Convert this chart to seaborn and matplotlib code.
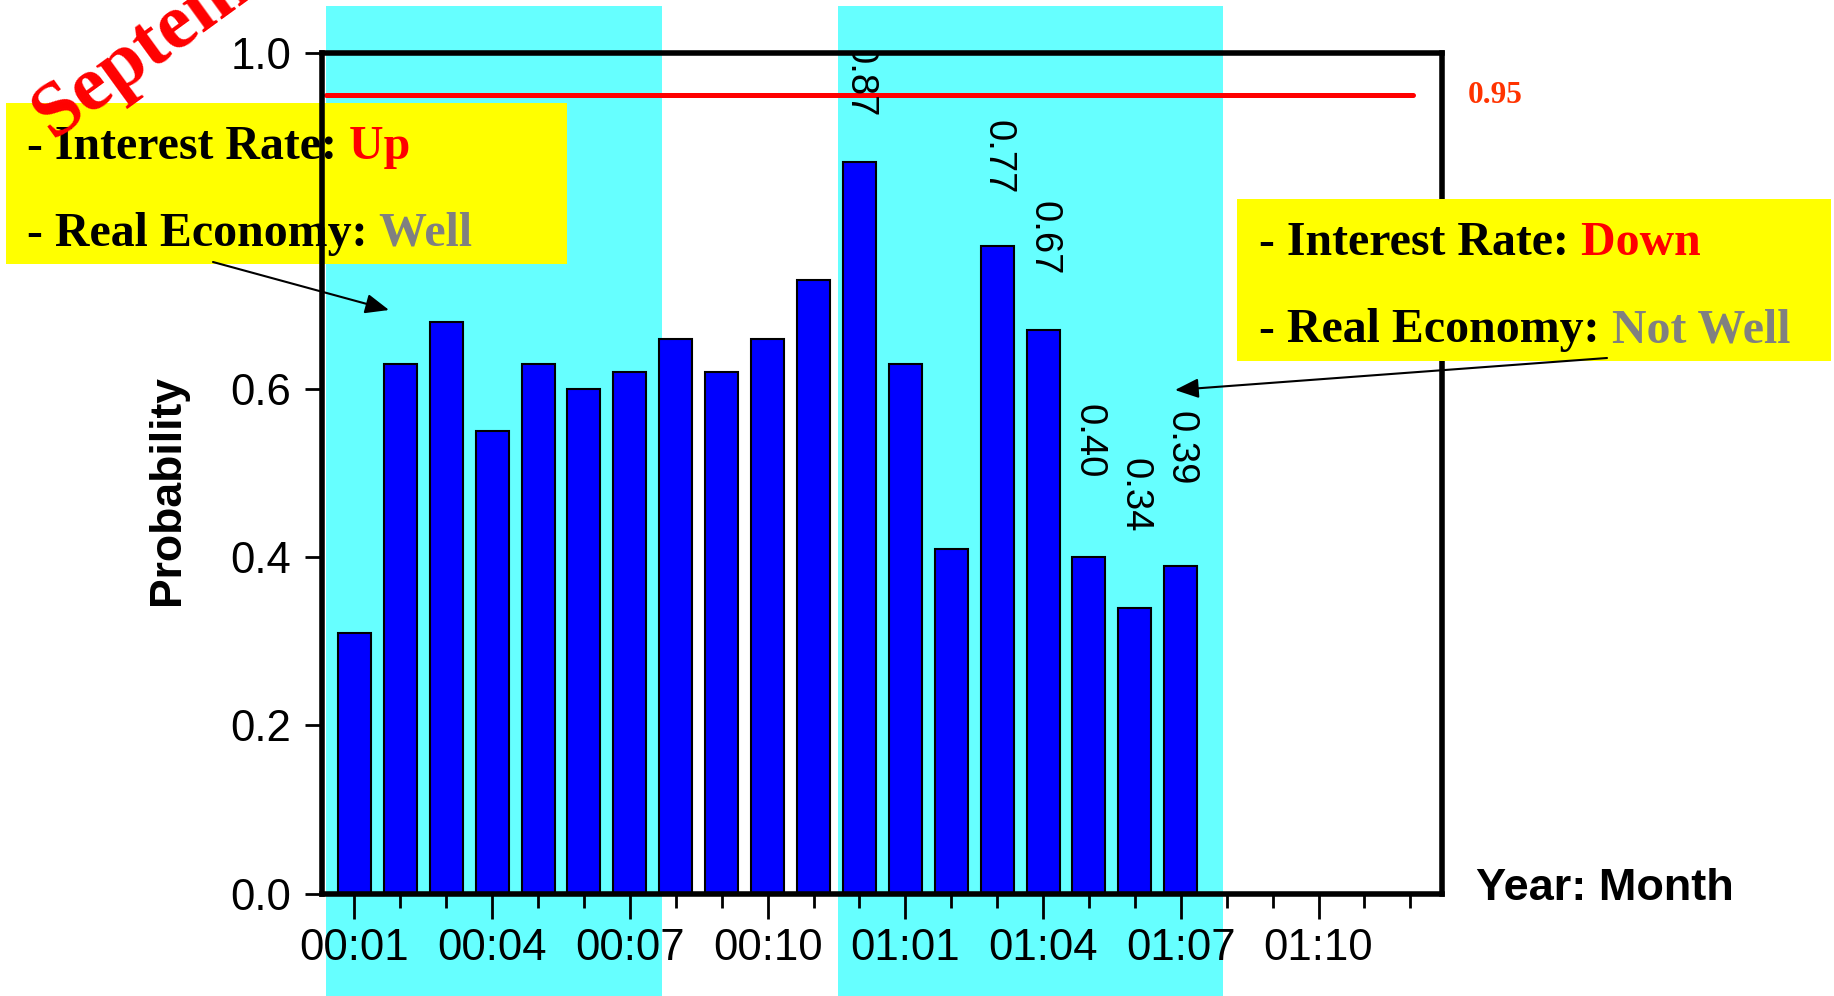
import matplotlib
matplotlib.use("Agg")
import matplotlib.pyplot as plt
from matplotlib.patches import Rectangle
import seaborn as sns
import pandas as pd

# ---- data -------------------------------------------------------------
months = ["00:01", "00:02", "00:03", "00:04", "00:05", "00:06",
          "00:07", "00:08", "00:09", "00:10", "00:11", "00:12",
          "01:01", "01:02", "01:03", "01:04", "01:05", "01:06",
          "01:07", "01:08", "01:09", "01:10", "01:11", "01:12"]
probabilities = [0.31, 0.63, 0.68, 0.55, 0.63, 0.60, 0.62, 0.66, 0.62,
                 0.66, 0.73, 0.87, 0.63, 0.41, 0.77, 0.67, 0.40, 0.34, 0.39]
labelled_months = ["00:12", "01:03", "01:04", "01:05", "01:06", "01:07"]
label_gaps = [0.053, 0.062, 0.066, 0.094, 0.089, 0.096]
threshold = 0.95
yticks = [0.0, 0.2, 0.4, 0.6, 0.8, 1.0]
major_months = ["00:01", "00:04", "00:07", "00:10", "01:01", "01:04", "01:07", "01:10"]
shaded_periods = [(-0.62, 6.70), (10.53, 18.92)]

# ---- style ------------------------------------------------------------
sns.set_style("white")
plt.rcParams["font.family"] = ["Liberation Sans", "DejaVu Sans"]
plt.rcParams.update({"text.color": "black", "axes.labelcolor": "black",
                     "xtick.color": "black", "ytick.color": "black"})
SERIF = ["Liberation Serif", "DejaVu Serif"]
W_PX, H_PX = 1834, 996

fig = plt.figure(figsize=(W_PX / 100, H_PX / 100), dpi=100)
ax = fig.add_axes([322 / W_PX, 1 - 893.5 / H_PX, 1120 / W_PX, 840.5 / H_PX])

df = pd.DataFrame({"month": months[:len(probabilities)], "p": probabilities})
sns.barplot(data=df, x="month", y="p", order=months, color="#0000FF",
            saturation=1, width=0.72, edgecolor="black", linewidth=1.5,
            errorbar=None, ax=ax)
for bar in ax.patches:
    bar.set_zorder(3)

# shaded periods extend beyond the frame
for x0, x1 in shaded_periods:
    ax.axvspan(x0, x1, ymin=-0.3, ymax=1.056, color="#66FFFF", lw=0,
               zorder=0.6, clip_on=False)

ax.set_xlim(-0.706, 23.69)
ax.set_ylim(0, 1)

# threshold line and its value
ax.axhline(threshold, xmin=0.004, xmax=0.974, color="#FF0000", lw=3.6, zorder=2)
ax.text(1.023, threshold, f"{threshold:.2f}", transform=ax.get_yaxis_transform(),
        va="center", ha="left", color="#FF3300", fontsize=22.5,
        fontweight="bold", family=SERIF, clip_on=False)

# value labels above selected bars
for m, gap in zip(labelled_months, label_gaps):
    i = months.index(m)
    v = probabilities[i]
    ax.text(i, v + gap, f"{v:.2f}", rotation=270, ha="center", va="bottom",
            fontsize=27.5, color="black", zorder=4, clip_on=True)

# axes frame and ticks
for sp in ax.spines.values():
    sp.set_visible(True)
    sp.set_color("black")
    sp.set_linewidth(4)
    sp.set_zorder(10)
ax.xaxis.set_zorder(0.8)
ax.yaxis.set_zorder(0.8)

ax.set_yticks(yticks, labels=[f"{t:.1f}" for t in yticks])
major_idx = [months.index(m) for m in major_months]
minor_idx = [i for i in range(len(months)) if i not in major_idx]
ax.set_xticks(major_idx, labels=major_months)
ax.set_xticks(minor_idx, minor=True)
ax.tick_params(axis="y", left=True, direction="out", length=12, width=2,
               pad=10, labelsize=31.5, colors="black")
ax.tick_params(axis="x", which="major", bottom=True, direction="out",
               length=18, width=2, pad=7, labelsize=31.5, colors="black")
ax.tick_params(axis="x", which="minor", bottom=True, direction="out",
               length=10, width=2, colors="black")

ax.set_xlabel("")
ax.set_ylabel("Probability", fontsize=32, fontweight="bold", color="black")
ax.yaxis.set_label_coords(-0.12, 0.48)

fig.text(1476 / W_PX, 1 - 900 / H_PX, "Year: Month", fontsize=32.5,
         fontweight="bold", ha="left", va="baseline", color="black")


# ---- annotation boxes -------------------------------------------------
def fig_xy(px, py):
    return px / W_PX, 1 - py / H_PX


def note_box(x0, y0, x1, y1, lines, z_box, z_txt, text_x, baselines):
    fx, fy = fig_xy(x0, y1)
    ax.add_artist(Rectangle((fx, fy), (x1 - x0) / W_PX, (y1 - y0) / H_PX,
                            transform=fig.transFigure, facecolor="#FFFF00",
                            edgecolor="none", zorder=z_box, clip_on=False))
    for (head, tail, tail_color), base in zip(lines, baselines):
        tx, ty = fig_xy(text_x, base)
        t1 = ax.text(tx, ty, head, transform=fig.transFigure, fontsize=34.5,
                     fontweight="bold", family=SERIF, ha="left", color="black",
                     va="baseline", zorder=z_txt, clip_on=False)
        ax.annotate(" " + tail, xy=(1, 0), xycoords=t1, ha="left",
                    va="bottom", fontsize=34.5, fontweight="bold",
                    family=SERIF, color=tail_color, zorder=z_txt,
                    annotation_clip=False)


note_box(6, 103, 567, 264,
         [("- Interest Rate:", "Up", "#FF0000"),
          ("- Real Economy:", "Well", "#808080")],
         1.0, 5, 27, [159, 246])
note_box(1237, 199, 1831, 361,
         [("- Interest Rate:", "Down", "#FF0000"),
          ("- Real Economy:", "Not Well", "#808080")],
         11, 12, 1259, [255, 342])

arrow_kw = dict(arrowstyle="-|>,head_length=0.72,head_width=0.3",
                mutation_scale=20, color="black", lw=1.5,
                shrinkA=0, shrinkB=0)
ax.annotate("", xy=fig_xy(389, 310), xycoords="figure fraction",
            xytext=fig_xy(213, 262), textcoords="figure fraction",
            arrowprops=arrow_kw, annotation_clip=False, zorder=13)
ax.annotate("", xy=fig_xy(1175, 390), xycoords="figure fraction",
            xytext=fig_xy(1607, 358), textcoords="figure fraction",
            arrowprops=arrow_kw, annotation_clip=False, zorder=13)

sx, sy = fig_xy(53, 139)
fig.text(sx, sy, "September", rotation=36, rotation_mode="anchor",
         ha="left", va="baseline", color="#FF0000", fontsize=57,
         fontweight="bold", family=SERIF, zorder=6)

fig.savefig("out.png", dpi=100)
